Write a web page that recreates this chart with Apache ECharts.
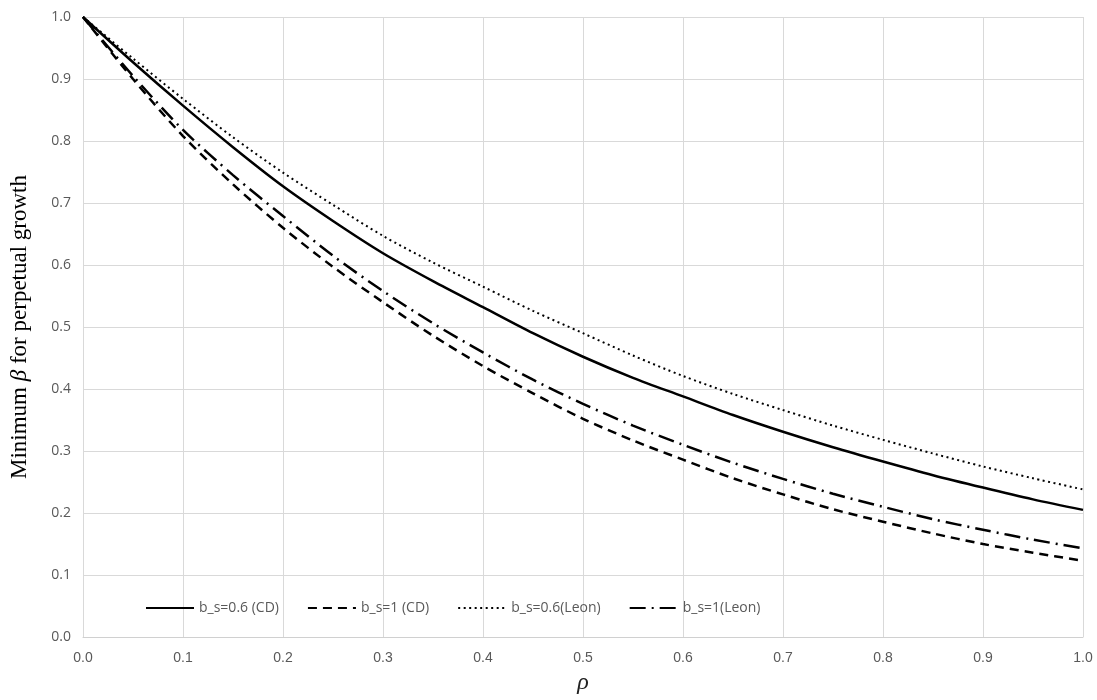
<!DOCTYPE html>
<html><head><meta charset="utf-8">
<script src="https://cdn.jsdelivr.net/npm/echarts@6/dist/echarts.min.js"></script>
<style>html,body{margin:0;padding:0;background:#fff}#c{width:1097px;height:700px}</style>
</head><body><div id="c"></div>
<script>
var rho = [0, 0.05, 0.1, 0.15, 0.2, 0.25, 0.3, 0.35, 0.4, 0.45, 0.5, 0.55, 0.6, 0.65, 0.7, 0.75, 0.8, 0.85, 0.9, 0.95, 1.0];
var cd06 = [1, 0.927, 0.857, 0.790, 0.727, 0.671, 0.619, 0.574, 0.532, 0.490, 0.452, 0.418, 0.388, 0.358, 0.331, 0.306, 0.283, 0.261, 0.241, 0.222, 0.205];
var cd1 = [1, 0.900, 0.808, 0.730, 0.660, 0.597, 0.540, 0.486, 0.437, 0.393, 0.352, 0.317, 0.286, 0.256, 0.230, 0.206, 0.186, 0.167, 0.150, 0.136, 0.123];
var leon06 = [1, 0.933, 0.868, 0.806, 0.749, 0.697, 0.647, 0.604, 0.565, 0.526, 0.490, 0.454, 0.421, 0.392, 0.366, 0.341, 0.318, 0.296, 0.275, 0.256, 0.238];
var leon1 = [1, 0.905, 0.818, 0.745, 0.679, 0.615, 0.558, 0.506, 0.459, 0.415, 0.376, 0.341, 0.310, 0.281, 0.255, 0.231, 0.210, 0.190, 0.173, 0.157, 0.143];
var names = ['b_s=0.6 (CD)', 'b_s=1 (CD)', 'b_s=0.6(Leon)', 'b_s=1(Leon)'];
var xTicks = ['0.0','0.1','0.2','0.3','0.4','0.5','0.6','0.7','0.8','0.9','1.0'];

function pairs(ys){ return rho.map(function(x,i){return [x, ys[i]];}); }
var styles = [
  {type:'solid', width:2.5},
  {type:[9,6], width:2.5},
  {type:[2,3.5], width:2},
  {type:[16,6,2,6], width:2.5}
];
var datas = [cd06, cd1, leon06, leon1];
var series = datas.map(function(d,i){
  return {name:names[i], type:'line', data:pairs(d), smooth:0.3, symbol:'none', showSymbol:false,
    lineStyle:{color:'#000', width:styles[i].width, type:styles[i].type}, itemStyle:{color:'#000'}};
});
var chart = echarts.init(document.getElementById('c'));
chart.setOption({
  animation:false,
  grid:{left:82, right:14, top:17, bottom:58},
  legend:{left:140, top:596, itemWidth:48, itemHeight:14, itemGap:28,
    itemStyle:{opacity:0},
    textStyle:{color:'#595959', fontSize:14, fontFamily:'Open Sans'},
    data:names},
  xAxis:{type:'value', min:0, max:1, interval:0.1,
    name:'ρ', nameLocation:'middle', nameGap:34,
    nameTextStyle:{fontFamily:'Liberation Serif', fontStyle:'italic', fontSize:24, color:'#222'},
    axisLine:{show:true, lineStyle:{color:'#d0d0d0'}}, axisTick:{show:false},
    axisLabel:{color:'#595959', fontSize:14, fontFamily:'Liberation Sans Narrow, Liberation Sans', margin:14,
      formatter:function(v){ return xTicks[Math.round(v*10)]; }},
    splitLine:{show:true, lineStyle:{color:'#d9d9d9'}}},
  yAxis:{type:'value', min:0, max:1, interval:0.1,
    name:'{a|Minimum }{b|β}{a| for perpetual growth}', nameLocation:'middle', nameGap:52,
    nameTextStyle:{rich:{a:{fontFamily:'Liberation Serif', fontSize:23, color:'#000'},
      b:{fontFamily:'Liberation Serif', fontStyle:'italic', fontSize:23, color:'#000'}}},
    axisLine:{show:false}, axisTick:{show:false},
    axisLabel:{color:'#595959', fontSize:14, fontFamily:'Open Sans', margin:12,
      formatter:function(v){ return v.toFixed(1); }},
    splitLine:{show:true, lineStyle:{color:'#d9d9d9'}}},
  series:series
});
</script></body></html>
